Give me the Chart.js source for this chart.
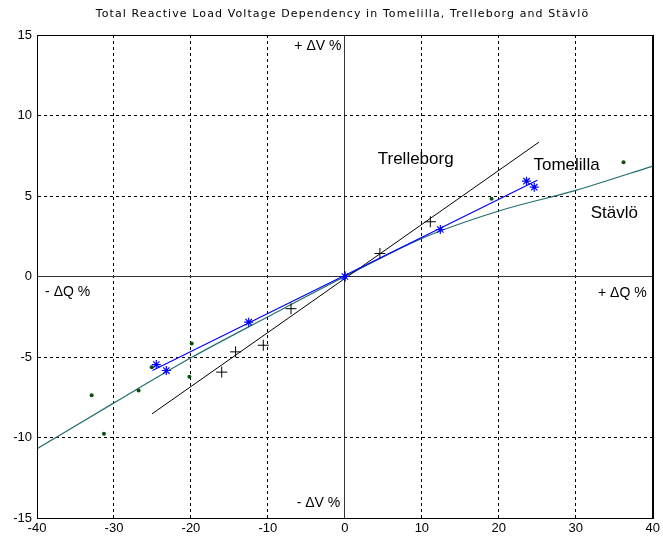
<!DOCTYPE html>
<html>
<head>
<meta charset="utf-8">
<script src="https://cdn.jsdelivr.net/npm/chart.js@4/dist/chart.umd.min.js"></script>
<style>
  html, body { margin: 0; padding: 0; background: #ffffff; }
  #wrap { width: 663px; height: 537px; }
</style>
</head>
<body>
<div id="wrap"><canvas id="c" width="663" height="537"></canvas></div>
<script>
// ---- data ----
const titleText = "Total Reactive Load Voltage Dependency in Tomelilla, Trelleborg and Stävlö";

const xTicks = [-40, -30, -20, -10, 0, 10, 20, 30, 40];
const yTicks = [-15, -10, -5, 0, 5, 10, 15];

const trelleborgX = [-16.0, -14.2, -10.6, -7.0, 0, 4.55, 11.1];
const trelleborgY = [-5.94, -4.68, -4.27, -2.0, 0, 1.43, 3.4];
const trelleborgFitX = [-25.05, 25.2];
const trelleborgFitY = [-8.53, 8.34];

const tomelillaX = [-24.5, -23.2, -12.5, 0, 12.4, 23.6, 24.6];
const tomelillaY = [-5.47, -5.84, -2.84, 0, 2.92, 5.92, 5.55];
const tomelillaFitX = [-25.0, 25.0];
const tomelillaFitY = [-5.84, 5.98];

const stavloX = [-32.9, -31.3, -26.8, -25.1, -20.2, -19.9, 0, 19.06, 36.2];
const stavloY = [-7.37, -9.77, -7.08, -5.63, -6.23, -4.16, 0, 4.83, 7.1];
const stavloCurveX = [-40, -30, -20, -10, 0, 10, 20, 30, 40];
const stavloCurveY = [-10.7, -7.85, -5.05, -2.5, 0, 2.37, 4.07, 5.35, 6.86];

const textLabels = ["Trelleborg", "Tomelilla", "Stävlö", "+ ΔV %", "- ΔV %", "- ΔQ %", "+ ΔQ %"];
const textX = [9.2, 28.8, 35.0, -0.45, -0.6, -38.95, 39.2];
const textY = [7.27, 6.91, 3.95, 14.3, -14.05, -1.0, -1.05];
const textAlign = ["center", "center", "center", "right", "right", "left", "right"];
const textSize = [17, 17, 17, 14, 14, 14, 14];

// ---- helpers ----
const pts = (xs, ys) => xs.map((x, i) => ({ x: x, y: ys[i] }));

const framePlugin = {
  id: 'frame',
  afterDraw(chart) {
    const { ctx, chartArea: a, scales } = chart;
    ctx.save();
    // plot box
    ctx.strokeStyle = '#000000';
    ctx.lineWidth = 1;
    ctx.strokeRect(Math.round(a.left) + 0.5, Math.round(a.top) + 0.5,
                   Math.round(a.right - a.left) , Math.round(a.bottom - a.top));
    // title
    ctx.fillStyle = '#000000';
    ctx.font = '11px "DejaVu Sans"';
    if ('letterSpacing' in ctx) ctx.letterSpacing = '1.1px';
    ctx.textAlign = 'center';
    ctx.textBaseline = 'middle';
    ctx.fillText(titleText, 342.5, 14.5);
    if ('letterSpacing' in ctx) ctx.letterSpacing = '0px';
    // in-plot text labels
    textLabels.forEach((t, i) => {
      ctx.font = textSize[i] + 'px "Liberation Sans", Arial, sans-serif';
      ctx.textAlign = textAlign[i];
      ctx.textBaseline = 'middle';
      ctx.fillText(t, scales.x.getPixelForValue(textX[i]), scales.y.getPixelForValue(textY[i]));
    });
    ctx.restore();
  }
};

const gridColor = (ctx) => {
  const v = ctx.tick ? ctx.tick.value : null;
  if (v === 0) return '#333333';
  return '#000000';
};
const dashFor = (min, max) => (ctx) => {
  if (!ctx.tick) return [];
  const v = ctx.tick.value;
  if (v === 0 || v === min || v === max) return [];
  return [3, 3];
};

new Chart(document.getElementById('c'), {
  type: 'scatter',
  data: {
    datasets: [
      {
        label: 'Tomelilla points',
        data: pts(tomelillaX, tomelillaY),
        pointStyle: 'star', pointRadius: 4.5, borderColor: '#0000ff', borderWidth: 1.2,
        backgroundColor: '#0000ff', showLine: false
      },
      {
        label: 'Tomelilla fit',
        data: pts(tomelillaFitX, tomelillaFitY),
        showLine: true, borderColor: '#0000ff', borderWidth: 1.2, pointRadius: 0, fill: false
      },
      {
        label: 'Trelleborg points',
        data: pts(trelleborgX, trelleborgY),
        pointStyle: 'cross', pointRadius: 5.5, borderColor: '#000000', borderWidth: 1,
        backgroundColor: '#000000', showLine: false
      },
      {
        label: 'Trelleborg fit',
        data: pts(trelleborgFitX, trelleborgFitY),
        showLine: true, borderColor: '#000000', borderWidth: 1, pointRadius: 0, fill: false
      },
      {
        label: 'Stävlö points',
        data: pts(stavloX, stavloY),
        pointStyle: 'circle', pointRadius: 2, borderWidth: 0,
        backgroundColor: '#0b4f0b', borderColor: '#0b4f0b', showLine: false
      },
      {
        label: 'Stävlö curve',
        data: pts(stavloCurveX, stavloCurveY),
        showLine: true, borderColor: '#236e6e', borderWidth: 1.2, pointRadius: 0,
        tension: 0.3, cubicInterpolationMode: 'monotone', fill: false
      }
    ]
  },
  options: {
    responsive: false,
    animation: false,
    events: [],
    layout: { padding: { left: 0, right: 7, top: 35, bottom: 0 } },
    plugins: {
      legend: { display: false },
      title: { display: false },
      tooltip: { enabled: false }
    },
    scales: {
      x: {
        type: 'linear', position: 'bottom', min: -40, max: 40,
        afterBuildTicks: (s) => { s.ticks = xTicks.map(v => ({ value: v })); },
        afterFit: (s) => { s.height = 19; },
        ticks: {
          color: '#000000', padding: 3, maxRotation: 0, autoSkip: false,
          font: { family: '"Liberation Sans", Arial, sans-serif', size: 13 }
        },
        grid: { color: gridColor, lineWidth: 1, drawTicks: false, tickLength: 0 },
        border: { display: true, color: '#000000', width: 1, dash: dashFor(-40, 40) }
      },
      y: {
        type: 'linear', position: 'left', min: -15, max: 15,
        afterBuildTicks: (s) => { s.ticks = yTicks.map(v => ({ value: v })); },
        afterFit: (s) => { s.width = 37; },
        ticks: {
          color: '#000000', padding: 5, autoSkip: false,
          font: { family: '"Liberation Sans", Arial, sans-serif', size: 13 }
        },
        grid: { color: gridColor, lineWidth: 1, drawTicks: false, tickLength: 0 },
        border: { display: true, color: '#000000', width: 1, dash: dashFor(-15, 15) }
      }
    }
  },
  plugins: [framePlugin]
});
</script>
</body>
</html>
